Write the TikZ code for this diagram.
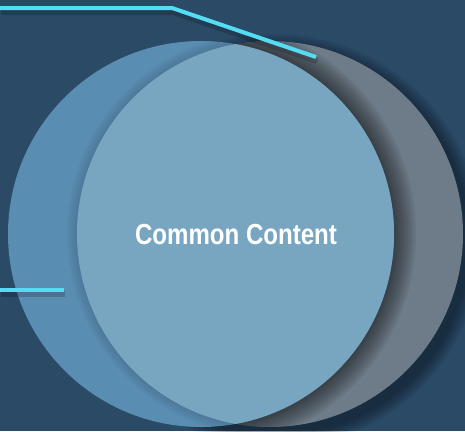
\documentclass[tikz,border=0pt]{standalone}
\usepackage{fontspec}
\setmainfont{Liberation Sans}
\usetikzlibrary{positioning}
\definecolor{backblue}{HTML}{2A4A66}
\definecolor{leftblue}{HTML}{5A8DB2}
\definecolor{commonblue}{HTML}{78A6C1}
\definecolor{slategrey}{HTML}{6E7B88}
\definecolor{leadcyan}{HTML}{55DCF5}

\begin{document}
\begin{tikzpicture}[x=1pt, y=-1pt,
discnode/.style={circle, inner sep=0pt, minimum size=386pt},
leadline/.style={draw=leadcyan, line width=4pt},
leadshadow/.style={draw=black, line width=6pt, opacity=0.18},
labelnode/.style={text=white, font=\bfseries\fontsize{29}{30}\selectfont},
]
%Background
\fill[backblue] (0,0) rectangle (465,431);
\useasboundingbox (0,0) rectangle (465,431);

%Nodes
\node[discnode](RightDisc) at (270,234){};
\node[discnode](LeftDisc) at (201,234){};

%Shadows behind the grey disc
\foreach \r in {2,4,...,14}
  \fill[black, opacity=0.06] ([shift={(5,7)}]RightDisc.center) circle (193pt+\r pt);
\fill[slategrey] (RightDisc.center) circle (193pt);

%Shadow of the blue disc on the grey one
\begin{scope}
\clip (RightDisc.center) circle (193pt);
\foreach \w in {4,8,...,44}
  \draw[black, opacity=0.05, line width=\w pt] (LeftDisc.center) circle (193pt);
\end{scope}

\fill[leftblue] (LeftDisc.center) circle (193pt);
\begin{scope}
\clip (LeftDisc.center) circle (193pt);
\foreach \w in {4,8,...,20}
  \draw[black, opacity=0.025, line width=\w pt] (RightDisc.center) circle (193pt);
\fill[commonblue] (RightDisc.center) circle (193pt);
\end{scope}

%Lead lines
\coordinate (TopStart) at (0,8);
\coordinate (TopBend) at (172,8);
\coordinate (TopEnd) at (316,57);
\coordinate (SideStart) at (0,290);
\coordinate (SideEnd) at (64,290);
\draw[leadshadow, transform canvas={shift={(1pt,-4pt)}}] (TopStart) -- (TopBend) -- (TopEnd);
\draw[leadshadow, transform canvas={shift={(1pt,-4pt)}}] (SideStart) -- (SideEnd);
\draw[leadline] (TopStart) -- (TopBend) -- (TopEnd);
\draw[leadline] (SideStart) -- (SideEnd);

%Label
\node[labelnode](Common) at (236,235){\scalebox{0.83}[1]{Common Content}};
\end{tikzpicture}
\end{document}
